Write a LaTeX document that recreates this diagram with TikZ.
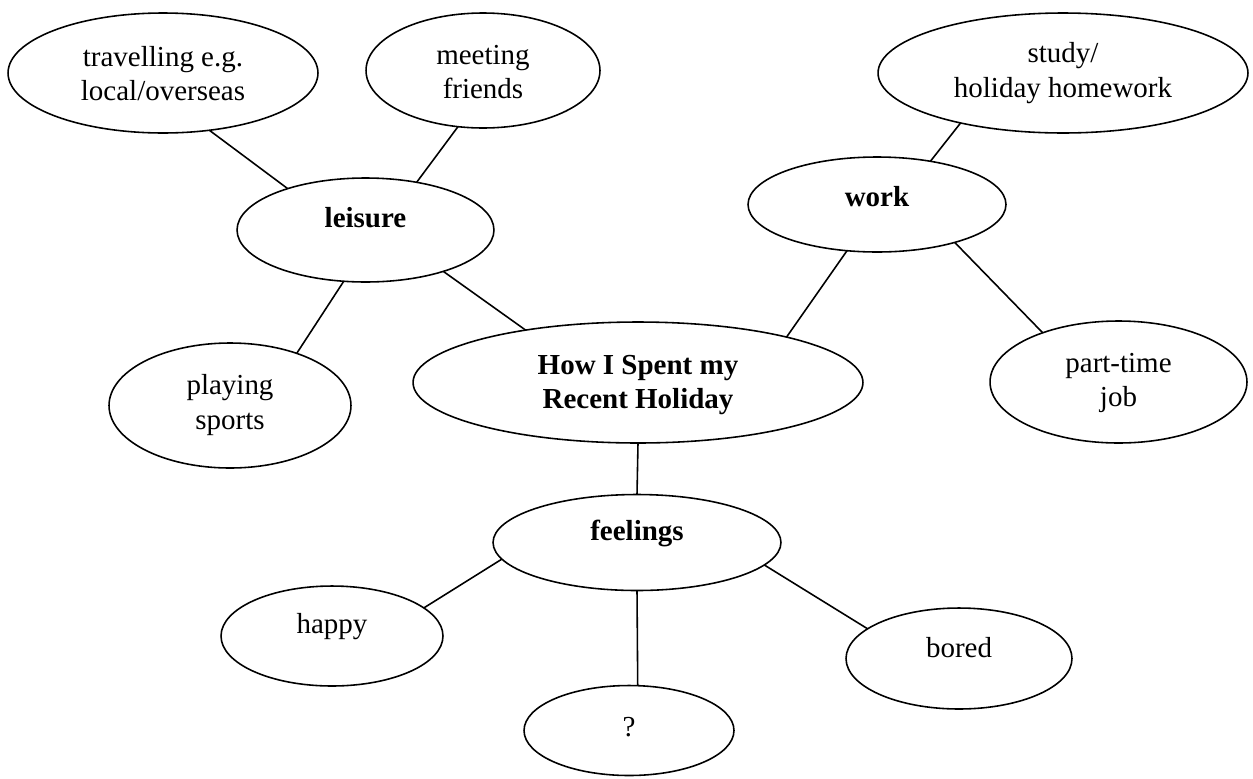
\documentclass[tikz,border=0pt]{standalone}
\usepackage{fontspec}
\setmainfont{Liberation Serif}
\usetikzlibrary{shapes.geometric}
\tikzset{
  ell/.style={draw=black, line width=0.9pt, ellipse, inner sep=0pt, outer sep=0pt},
  lbl/.style={align=center, inner sep=0pt, font=\fontsize{16.5}{19.8}\selectfont},
  blbl/.style={lbl, font=\fontsize{16.5}{19.8}\selectfont\bfseries},
  con/.style={draw=black, line width=0.9pt}
}
\begin{document}
\begin{tikzpicture}[x=0.02cm,y=-0.02cm]
\useasboundingbox (0,0) rectangle (1253,778);
% ellipses
\node[ell, minimum width=6.2cm,  minimum height=2.4cm]  (trav)  at (163,73) {};
\node[ell, minimum width=4.68cm, minimum height=2.3cm]  (meet)  at (483,70.5) {};
\node[ell, minimum width=7.4cm,  minimum height=2.4cm]  (study) at (1063,73) {};
\node[ell, minimum width=5.14cm, minimum height=2.08cm] (leis)  at (365.5,230) {};
\node[ell, minimum width=5.16cm, minimum height=1.9cm]  (work)  at (877,204.5) {};
\node[ell, minimum width=4.84cm, minimum height=2.5cm]  (play)  at (230,405.5) {};
\node[ell, minimum width=9.0cm,  minimum height=2.42cm] (cen)   at (638,382.5) {};
\node[ell, minimum width=5.14cm, minimum height=2.44cm] (part)  at (1118.5,382) {};
\node[ell, minimum width=5.76cm, minimum height=1.92cm] (feel)  at (637,542.5) {};
\node[ell, minimum width=4.44cm, minimum height=2.0cm]  (happy) at (332,636) {};
\node[ell, minimum width=4.52cm, minimum height=2.02cm] (bored) at (959,658.5) {};
\node[ell, minimum width=4.2cm,  minimum height=1.8cm]  (q)     at (629,730.5) {};
% texts
\node[lbl]  (tTrav)  at (163,73.5) {travelling e.g.\\local/overseas};
\node[lbl]  (tMeet)  at (483,72) {meeting\\friends};
\node[lbl]  (tStudy) at (1063,73) {study/\\holiday homework};
\node[blbl] (tLeis)  at (365.5,218) {leisure};
\node[blbl] (tWork)  at (877,197) {work};
\node[lbl]  (tPlay)  at (230,405) {playing\\sports};
\node[blbl] (tCen)   at (638,385) {How I Spent my\\Recent Holiday};
\node[lbl]  (tPart)  at (1118.5,383) {part-time\\job};
\node[blbl] (tFeel)  at (637,533) {feelings};
\node[lbl]  (tHappy) at (332,627) {happy};
\node[lbl]  (tBored) at (959,648) {bored};
\node[lbl]  (tQ)     at (629,727) {?};
% connectors
\draw[con] (trav.-51) -- (leis.152.2);
\draw[con] (meet.-114.3) -- (leis.43.5);
\draw[con] (leis.-28.1) -- (cen.155.9);
\draw[con] (leis.-113.4) -- (play.38.1);
\draw[con] (study.-154.5) -- (work.39.3);
\draw[con] (work.-123.4) -- (cen.17.5);
\draw[con] (work.-26) -- (part.147.2);
\draw[con] (cen.-90) -- (feel.90);
\draw[con] (feel.-173.2) -- (happy.17.1);
\draw[con] (feel.-10) -- (bored.162.4);
\draw[con] (feel.-90) -- (q.79.8);
\end{tikzpicture}
\end{document}
